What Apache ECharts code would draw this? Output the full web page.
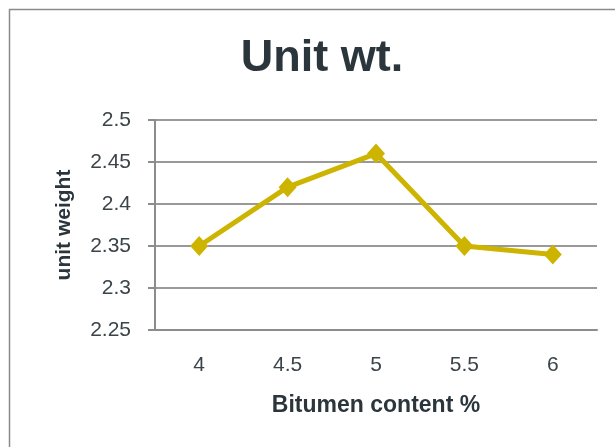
<!DOCTYPE html>
<html>
<head>
<meta charset="utf-8">
<script src="https://cdn.jsdelivr.net/npm/echarts@6/dist/echarts.min.js"></script>
<style>
  html, body { margin: 0; padding: 0; background: #fff; }
  #main { width: 615px; height: 447px; }
</style>
</head>
<body>
<div id="main"></div>
<script>
// bitumen content (%) on x, unit weight on y
const categories = ["4", "4.5", "5", "5.5", "6"]
const unitWeight = [2.35, 2.42, 2.46, 2.35, 2.34]
const yMin = 2.25
const yMax = 2.5
const yStep = 0.05

const textColor = "#2b363c"
const font = "'Liberation Sans', Arial, sans-serif"

const myChart = echarts.init(document.getElementById("main"))

const option = {
  animation: false,
  backgroundColor: "#fff",
  graphic: [
    {
      type: "rect",
      shape: { x: 9.5, y: 9.5, width: 700, height: 500 },
      style: { fill: "none", stroke: "#8a8a8a", lineWidth: 1.5 },
      silent: true
    }
  ],
  title: {
    text: "Unit wt.",
    left: 317,
    textAlign: "center",
    top: 31,
    textStyle: {
      fontFamily: font,
      fontSize: 45,
      fontWeight: "bold",
      color: textColor
    }
  },
  grid: {
    left: 155,
    right: 18,
    top: 120,
    bottom: 117
  },
  xAxis: {
    type: "category",
    data: categories,
    boundaryGap: true,
    name: "Bitumen content %",
    nameLocation: "middle",
    nameGap: 64,
    nameTextStyle: {
      fontFamily: font,
      fontSize: 23,
      fontWeight: "bold",
      color: textColor
    },
    axisLine: { lineStyle: { color: "#8c8c8c", width: 2 } },
    axisTick: { show: false },
    axisLabel: {
      margin: 25,
      fontFamily: font,
      fontSize: 21,
      color: "#3a4449"
    }
  },
  yAxis: {
    type: "value",
    min: yMin,
    max: yMax,
    interval: yStep,
    name: "unit weight",
    nameLocation: "middle",
    nameGap: 80,
    nameTextStyle: {
      fontFamily: font,
      fontSize: 21,
      fontWeight: "bold",
      color: textColor
    },
    axisLine: { show: true, lineStyle: { color: "#8c8c8c", width: 2 } },
    axisTick: { show: true, length: 7, lineStyle: { color: "#8c8c8c", width: 2 } },
    splitLine: { lineStyle: { color: "#999", width: 2 } },
    axisLabel: {
      margin: 24,
      fontFamily: font,
      fontSize: 21,
      color: "#3a4449"
    }
  },
  series: [
    {
      type: "line",
      data: unitWeight,
      symbol: "diamond",
      symbolSize: [18, 20],
      lineStyle: { color: "#cdb400", width: 5 },
      itemStyle: { color: "#cdb400" }
    }
  ]
}

myChart.setOption(option)
</script>
</body>
</html>
